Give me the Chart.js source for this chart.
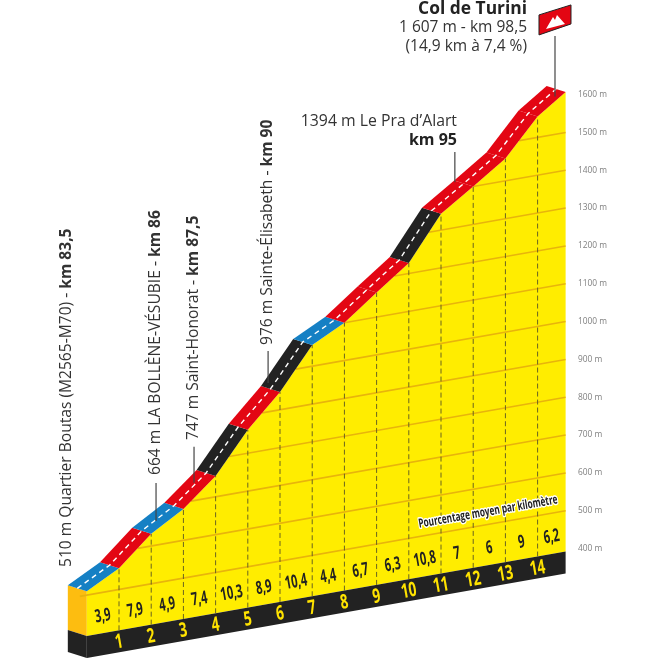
<!DOCTYPE html>
<html>
<head>
<meta charset="utf-8">
<style>body { margin: 0; background: #fff; }</style>
<script src="https://cdn.jsdelivr.net/npm/chart.js@4"></script>
</head>
<body>
<canvas id="profile" width="660" height="660"></canvas>
<script>
// Col de Turini climb profile, oblique view

const kmMarks = [0, 1, 2, 3, 4, 5, 6, 7, 8, 9, 10, 11, 12, 13, 14, 14.87];
const elevations = [510, 556, 632, 683, 755, 862, 947, 1056, 1100, 1165, 1228, 1343, 1400, 1459, 1555, 1607];
const grades = [3.9, 7.9, 4.9, 7.4, 10.3, 8.9, 10.4, 4.4, 6.7, 6.3, 10.8, 7, 6, 9, 6.2];
const gradeLabels = ['3,9', '7,9', '4,9', '7,4', '10,3', '8,9', '10,4', '4,4', '6,7', '6,3', '10,8', '7', '6', '9', '6,2'];
const kmLabels = ['1', '2', '3', '4', '5', '6', '7', '8', '9', '10', '11', '12', '13', '14'];
const elevationTicks = [400, 500, 600, 700, 800, 900, 1000, 1100, 1200, 1300, 1400, 1500, 1600];
const gridElevations = [500, 600, 700, 800, 900, 1000, 1100, 1200, 1300, 1400, 1500];
const leaderKm = [2.15, 3.33, 5.63, 11.43, 14.54];
const leaderFrom = [664, 747, 976, 1420, 1600];
const leaderTo = [764, 842, 1061, 1500, 1760];

const endKm = kmMarks[kmMarks.length - 1];
const TILT = 15;        // metres of apparent ground rise per km
const DEPTH_KM = 0.59;  // road width, along x
const DEPTH_M = 16;     // road width, along y
const BASE = 392;
const BASE_LOW = 334;

const YELLOW = '#ffed00';
const RED = '#e30613';
const BLUE = '#1580c4';
const BLACK = '#222222';
const FONT = '"Open Sans", sans-serif';

const skew = (km, elev) => elev - TILT * (endKm - km);
const pt = (km, elev) => ({ x: km, y: skew(km, elev) });
const backPt = (km, elev) => ({ x: km - DEPTH_KM, y: skew(km, elev) + DEPTH_M });
const gradeColor = g => (g < 5 ? BLUE : g < 10 ? RED : BLACK);

function crossKm(elev) {
    for (let i = 1; i < kmMarks.length; i++) {
        if (elevations[i] >= elev) {
            const t = (elev - elevations[i - 1]) / (elevations[i] - elevations[i - 1]);
            return kmMarks[i - 1] + t * (kmMarks[i] - kmMarks[i - 1]);
        }
    }
    return endKm;
}

const datasets = [];
function shape(data, color) {
    datasets.push({ data, fill: 'shape', backgroundColor: color, borderWidth: 0, borderColor: color, pointRadius: 0, tension: 0, clip: false, order: -datasets.length });
}
function line(data, color, width, dash) {
    datasets.push({ data, fill: false, borderColor: color, borderWidth: width, borderDash: dash || [], pointRadius: 0, tension: 0, clip: false, order: -datasets.length });
}

// left end of the block
shape([backPt(0, 510), pt(0, 510), pt(0, BASE), backPt(0, BASE)], '#fdbd10');
shape([backPt(0, BASE), pt(0, BASE), pt(0, BASE_LOW), backPt(0, BASE_LOW)], BLACK);

// front face and black foot
shape([...kmMarks.map((k, i) => pt(k, elevations[i])), pt(endKm, BASE), pt(0, BASE)], YELLOW);
shape([pt(0, BASE), pt(endKm, BASE), pt(endKm, BASE_LOW), pt(0, BASE_LOW)], BLACK);

gridElevations.forEach(e => line([pt(crossKm(e), e), pt(endKm, e)], '#e8b40c', 1.6));
kmMarks.slice(1, -1).forEach((k, i) => line([pt(k, BASE), pt(k, elevations[i + 1])], '#6a6420', 1, [5, 3]));

// road, one piece per kilometre
grades.forEach((g, i) => {
    const a = kmMarks[i], b = kmMarks[i + 1];
    shape([pt(a, elevations[i]), pt(b, elevations[i + 1]), backPt(b, elevations[i + 1]), backPt(a, elevations[i])], gradeColor(g));
});
line(kmMarks.map((k, i) => ({ x: k - DEPTH_KM / 2, y: skew(k, elevations[i]) + DEPTH_M / 2 })), '#ffffff', 1.4, [5, 4]);

leaderKm.forEach((k, i) => line([pt(k, leaderFrom[i]), pt(k, leaderTo[i])], '#444444', 1.2));

function drawText(ctx, text, x, y, font, color, opts = {}) {
    ctx.save();
    ctx.translate(x, y);
    ctx.rotate((opts.angle || 0) * Math.PI / 180);
    ctx.scale(opts.squeeze || 1, 1);
    ctx.font = font;
    ctx.textAlign = opts.align || 'center';
    ctx.textBaseline = 'middle';
    if (opts.halo) {
        ctx.lineWidth = 3;
        ctx.lineJoin = 'round';
        ctx.strokeStyle = '#fff';
        ctx.strokeText(text, 0, 0);
    }
    ctx.fillStyle = color;
    ctx.fillText(text, 0, 0);
    ctx.restore();
}

// vertical label, normal part then bold part, reading upwards from y
function drawRising(ctx, x, y, plain, bold) {
    ctx.save();
    ctx.translate(x, y);
    ctx.rotate(-Math.PI / 2);
    ctx.textAlign = 'left';
    ctx.textBaseline = 'middle';
    ctx.fillStyle = '#333';
    ctx.font = `15.6px ${FONT}`;
    ctx.fillText(plain, 0, 0);
    const w = ctx.measureText(plain).width;
    ctx.font = `bold 15.6px ${FONT}`;
    ctx.fillText(bold, w, 0);
    ctx.restore();
}

const textPlugin = {
    id: 'profileText',
    afterDatasetsDraw(chart) {
        const ctx = chart.ctx;
        const px = k => chart.scales.x.getPixelForValue(k);
        const py = (k, e) => chart.scales.y.getPixelForValue(skew(k, e));

        gradeLabels.forEach((t, i) => {
            const k = (kmMarks[i] + kmMarks[i + 1]) / 2;
            drawText(ctx, t, px(k), py(k, BASE) - 17, `bold 18px ${FONT}`, '#222', { angle: -10, squeeze: 0.62 });
        });
        kmLabels.forEach((t, i) => {
            const k = i + 1;
            drawText(ctx, t, px(k), py(k, BASE) + 12, `bold 20px ${FONT}`, '#ffe300', { angle: -10, squeeze: 0.68 });
        });
        drawText(ctx, 'Pourcentage moyen par kilomètre', px(12.46), py(12.46, 533), `bold 12.5px ${FONT}`, '#222', { angle: -10, squeeze: 0.66, halo: true });

        drawRising(ctx, 67, 567, '510 m Quartier Boutas (M2565-M70) - ', 'km 83,5');
        drawRising(ctx, 156, 475, '664 m LA BOLLÈNE-VÉSUBIE - ', 'km 86');
        drawRising(ctx, 194, 440, '747 m Saint-Honorat - ', 'km 87,5');
        drawRising(ctx, 268, 345, '976 m Sainte-Élisabeth - ', 'km 90');

        drawText(ctx, '1394 m Le Pra d’Alart', 457, 121, `15.8px ${FONT}`, '#333', { align: 'right' });
        drawText(ctx, 'km 95', 457, 140, `bold 16px ${FONT}`, '#222', { align: 'right' });
        drawText(ctx, 'Col de Turini', 527, 9, `bold 17.4px ${FONT}`, '#222', { align: 'right' });
        drawText(ctx, '1 607 m - km 98,5', 527, 28, `15.5px ${FONT}`, '#333', { align: 'right' });
        drawText(ctx, '(14,9 km à 7,4 %)', 527, 47, `15.5px ${FONT}`, '#333', { align: 'right' });

        // summit flag
        const fx = px(leaderKm[4]);
        const fy = py(leaderKm[4], leaderTo[4]);
        ctx.save();
        ctx.translate(fx, fy);
        ctx.beginPath();
        ctx.moveTo(-16, -21);
        ctx.lineTo(16, -31);
        ctx.lineTo(16, -12);
        ctx.lineTo(-16, -1);
        ctx.closePath();
        ctx.fillStyle = RED;
        ctx.strokeStyle = '#222';
        ctx.lineWidth = 1;
        ctx.fill();
        ctx.stroke();
        ctx.beginPath();
        ctx.moveTo(-9, -7);
        ctx.lineTo(-2, -19);
        ctx.lineTo(0, -16);
        ctx.lineTo(2, -21);
        ctx.lineTo(10, -12);
        ctx.closePath();
        ctx.fillStyle = '#fff';
        ctx.fill();
        ctx.restore();
    }
};

new Chart(document.getElementById('profile').getContext('2d'), {
    type: 'line',
    data: { datasets },
    options: {
        responsive: false,
        animation: false,
        parsing: true,
        layout: { padding: 0, autoPadding: false },
        plugins: { legend: { display: false }, tooltip: { enabled: false } },
        scales: {
            x: { type: 'linear', display: false, min: -2.696, max: 15.006 },
            y: {
                position: 'right',
                min: 105.5,
                max: 1850,
                grid: { display: false },
                border: { display: false },
                afterFit: axis => { axis.width = 90; axis.paddingTop = 0; axis.paddingBottom = 0; },
                afterBuildTicks: axis => { axis.ticks = elevationTicks.map(value => ({ value })); },
                ticks: {
                    autoSkip: false,
                    padding: 0,
                    color: '#808080',
                    font: { family: 'Open Sans', size: 8.4 },
                    callback: v => `${v} m`
                }
            }
        }
    },
    plugins: [textPlugin]
});
</script>
</body>
</html>
